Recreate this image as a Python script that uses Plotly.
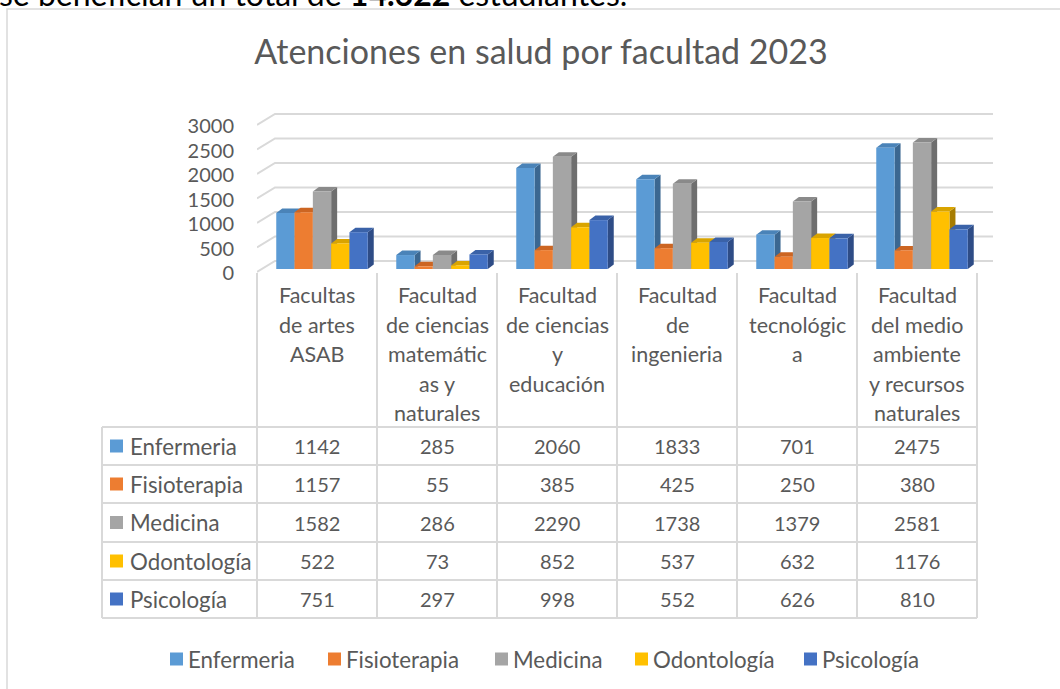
import plotly.graph_objects as go

# ---------------- data ----------------
categories = [
    "Facultas de artes ASAB",
    "Facultad de ciencias matemáticas y naturales",
    "Facultad de ciencias y educación",
    "Facultad de ingenieria",
    "Facultad tecnológica",
    "Facultad del medio ambiente y recursos naturales",
]
category_lines = [
    ["Facultas", "de artes", "ASAB"],
    ["Facultad", "de ciencias", "matemátic", "as y", "naturales"],
    ["Facultad", "de ciencias", "y", "educación"],
    ["Facultad", "de", "ingenieria"],
    ["Facultad", "tecnológic", "a"],
    ["Facultad", "del medio", "ambiente", "y recursos", "naturales"],
]
series_names = ["Enfermeria", "Fisioterapia", "Medicina", "Odontología", "Psicología"]
enfermeria = [1142, 285, 2060, 1833, 701, 2475]
fisioterapia = [1157, 55, 385, 425, 250, 380]
medicina = [1582, 286, 2290, 1738, 1379, 2581]
odontologia = [522, 73, 852, 537, 632, 1176]
psicologia = [751, 297, 998, 552, 626, 810]
series_values = [enfermeria, fisioterapia, medicina, odontologia, psicologia]
y_ticks = [0, 500, 1000, 1500, 2000, 2500, 3000]

title_text = "Atenciones en salud por facultad 2023"
top_text = "se benefician un total de <b>14.622</b> estudiantes."

# ---------------- styles ----------------
front_colors = ["#5B9BD5", "#ED7D31", "#A5A5A5", "#FFC000", "#4472C4"]
top_colors = ["#4A83B8", "#CC6522", "#8A8A8A", "#D9A400", "#3A62A8"]
side_colors = ["#3B6791", "#A9531A", "#6E6E6E", "#A67C00", "#2E4C86"]
TXT = "#595959"
GRID = "#D9D9D9"
FONT = "Lato"

W, H = 1060, 689


def X(px):
    return px / W


def Y(py):
    return 1 - py / H


# pixel geometry of the chart area
BASE = 269.0            # pixel of value 0 (bar front)
SCALE = 147.0 / 3000    # pixels per unit
DOM_TOP, DOM_BOT = 100, 275
COL0, COLW = 257, 120
XDOM_R = 1000
SHIFT = 5.0 / COLW
xr0 = -0.5 - SHIFT
xr1 = xr0 + (XDOM_R - COL0) / COLW
yr0 = -(DOM_BOT - BASE) / SCALE
yr1 = (BASE - DOM_TOP) / SCALE

fig = go.Figure()

bargap = 0.2375
nser = len(series_names)
bw = (1 - bargap) / nser
for j, (name, vals) in enumerate(zip(series_names, series_values)):
    fig.add_trace(go.Bar(
        name=name, x=list(range(len(categories))), y=vals,
        marker=dict(color=front_colors[j], line=dict(width=0)),
        hovertext=categories, hovertemplate="%{hovertext}<br>" + name + ": %{y}<extra></extra>",
    ))

shapes = []
# back-wall gridlines with left diagonal
back_dy = 8 / SCALE
front_dy = -3 / SCALE
for v in y_ticks:
    path = "M {a},{b} L {c},{d} L {e},{d}".format(
        a=xr0, b=v + front_dy, c=xr0 + 18 / COLW, d=v + back_dy, e=xr0 + 736 / COLW)
    shapes.append(dict(type="path", path=path, xref="x", yref="y", layer="below",
                       line=dict(color=GRID, width=2)))

# 3D faces of the bars (top and right side), computed from the data
ddx = 6.0 / COLW
ddy = 4.5 / SCALE
for i in range(len(categories)):
    for j in range(nser):
        v = series_values[j][i]
        left = i - (1 - bargap) / 2 + j * bw
        right = left + bw
        top = "M {l},{v} L {r},{v} L {r2},{v2} L {l2},{v2} Z".format(
            l=left, r=right, r2=right + ddx, l2=left + ddx, v=v, v2=v + ddy)
        side = "M {r},0 L {r},{v} L {r2},{v2} L {r2},{d} Z".format(
            r=right, r2=right + ddx, v=v, v2=v + ddy, d=ddy)
        shapes.append(dict(type="path", path=side, xref="x", yref="y", layer="below",
                           fillcolor=side_colors[j], line=dict(width=0)))
        shapes.append(dict(type="path", path=top, xref="x", yref="y", layer="below",
                           fillcolor=top_colors[j], line=dict(width=0)))

# outer frame
shapes.append(dict(type="rect", xref="paper", yref="paper", x0=X(7), x1=X(1090),
                   y0=Y(9), y1=Y(720), line=dict(color=GRID, width=1.5)))

# data table grid
row_lines = [427, 465, 503, 542, 580, 618]
TL = 102
TR = COL0 + COLW * len(categories)
for ry in row_lines:
    shapes.append(dict(type="line", xref="paper", yref="paper", x0=X(TL), x1=X(TR),
                       y0=Y(ry), y1=Y(ry), line=dict(color=GRID, width=2)))
shapes.append(dict(type="line", xref="paper", yref="paper", x0=X(TL), x1=X(TL),
                   y0=Y(row_lines[0]), y1=Y(row_lines[-1]), line=dict(color=GRID, width=2)))
for k in range(len(categories) + 1):
    cx = COL0 + COLW * k
    shapes.append(dict(type="line", xref="paper", yref="paper", x0=X(cx), x1=X(cx),
                       y0=Y(273), y1=Y(row_lines[-1]), line=dict(color=GRID, width=2)))

annotations = []
FS_HEAD = 21.5
FS_NUM = 20
FS_LBL = 22.3
# category header labels
for i, lines in enumerate(category_lines):
    cx = COL0 + COLW * (i + 0.5)
    for k, ln in enumerate(lines):
        annotations.append(dict(text=ln, x=X(cx), y=Y(295 + 29.5 * k), xref="paper", yref="paper",
                                xanchor="center", yanchor="middle", showarrow=False,
                                font=dict(family=FONT, size=FS_HEAD, color=TXT)))
# table rows
for j, name in enumerate(series_names):
    cy = (row_lines[j] + row_lines[j + 1]) / 2
    shapes.append(dict(type="rect", xref="paper", yref="paper", x0=X(110), x1=X(123),
                       y0=Y(cy - 6.5), y1=Y(cy + 6.5), fillcolor=front_colors[j], line=dict(width=0)))
    annotations.append(dict(text=name, x=X(128), y=Y(cy), xref="paper", yref="paper",
                            xanchor="left", yanchor="middle", showarrow=False,
                            font=dict(family=FONT, size=FS_LBL, color=TXT)))
    for i, v in enumerate(series_values[j]):
        cx = COL0 + COLW * (i + 0.5)
        annotations.append(dict(text=str(v), x=X(cx), y=Y(cy), xref="paper", yref="paper",
                                xanchor="center", yanchor="middle", showarrow=False,
                                font=dict(family=FONT, size=FS_NUM, color=TXT)))

# legend
legend_text_x = [188, 346, 513, 653, 822]
LEG_Y = 659
for j, name in enumerate(series_names):
    tx = legend_text_x[j]
    shapes.append(dict(type="rect", xref="paper", yref="paper", x0=X(tx - 18), x1=X(tx - 5),
                       y0=Y(LEG_Y - 6.5), y1=Y(LEG_Y + 6.5), fillcolor=front_colors[j], line=dict(width=0)))
    annotations.append(dict(text=name, x=X(tx - 2), y=Y(LEG_Y), xref="paper", yref="paper",
                            xanchor="left", yanchor="middle", showarrow=False,
                            font=dict(family=FONT, size=FS_LBL, color=TXT)))

# cropped document text above the chart
annotations.append(dict(text=top_text, x=X(-3), y=Y(-28.5), xref="paper", yref="paper",
                        xanchor="left", yanchor="top", showarrow=False,
                        font=dict(family=FONT, size=32, color="#000000")))

fig.update_layout(
    width=W, height=H,
    margin=dict(l=0, r=0, t=0, b=0, pad=0, autoexpand=False),
    paper_bgcolor="white", plot_bgcolor="rgba(0,0,0,0)",
    showlegend=False,
    barmode="group", bargap=bargap, bargroupgap=0,
    title=dict(text=title_text, x=X(541), y=Y(52), xanchor="center", yanchor="middle",
               xref="paper", yref="paper", automargin=False,
               font=dict(family=FONT, size=34, color=TXT)),
    xaxis=dict(domain=[X(COL0), X(XDOM_R)], range=[xr0, xr1], showgrid=False, zeroline=False,
               showticklabels=False, ticks="", showline=False, fixedrange=True, automargin=False),
    yaxis=dict(domain=[Y(DOM_BOT), Y(DOM_TOP)], range=[yr0, yr1], showgrid=False, zeroline=False,
               tickmode="array", tickvals=y_ticks, ticktext=[str(t) for t in y_ticks],
               ticks="", showline=False, ticklabelstandoff=22, ticklabelshift=4,
               automargin=False,
               tickfont=dict(family=FONT, size=20, color=TXT), fixedrange=True),
    shapes=shapes,
    annotations=annotations,
)

fig.write_html("out.html", config={"displayModeBar": False},
               post_script="document.body.style.margin='0px';document.body.style.overflow='hidden';")
